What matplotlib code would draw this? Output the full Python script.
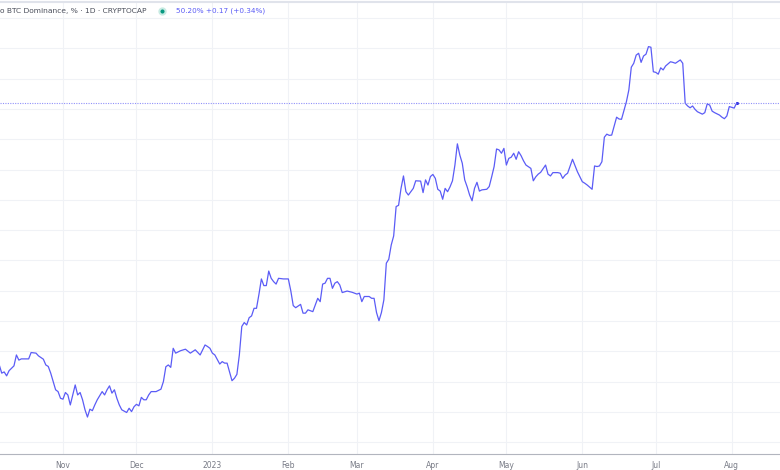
"""
BTC dominance (CRYPTOCAP, 1D) - line chart in a TradingView-like style.
"""

import datetime as dt

import matplotlib.dates as mdates
import matplotlib.pyplot as plt
from matplotlib.lines import Line2D

START = dt.date(2022, 11, 1)

# days counted from 2022-11-01, BTC dominance in %
days_from_nov1 = [
    -26, -25, -24, -23, -22, -20, -19, -18, -17, -14, -13, -11, -10, -8, -7,
    -6, -5, -3, -2, -1, 0, 1, 2, 3, 4, 5, 6, 7, 8, 9, 10, 11, 12, 13, 14, 16,
    17, 18, 19, 20, 21, 22, 23, 24, 26, 27, 28, 29, 30, 31, 32, 33, 34, 35,
    36, 38, 40, 41, 42, 43, 44, 45, 46, 48, 50, 52, 54, 56, 58, 59, 60, 61,
    62, 64, 65, 66, 67, 69, 70, 71, 72, 73, 74, 75, 76, 77, 78, 79, 80, 81,
    82, 83, 84, 85, 86, 87, 88, 90, 92, 93, 94, 95, 97, 98, 99, 100, 102, 104,
    105, 106, 107, 108, 109, 110, 111, 112, 113, 114, 116, 118, 120, 121, 122,
    123, 125, 126, 127, 128, 129, 130, 131, 132, 133, 134, 135, 136, 137, 138,
    139, 140, 141, 142, 143, 144, 146, 147, 148, 149, 150, 151, 152, 153, 154,
    155, 156, 157, 158, 159, 160, 161, 162, 163, 164, 165, 166, 167, 168, 169,
    170, 171, 173, 174, 175, 176, 177, 178, 179, 180, 181, 182, 183, 184, 185,
    186, 187, 188, 189, 191, 192, 193, 194, 195, 197, 198, 199, 200, 202, 203,
    204, 205, 206, 208, 209, 210, 212, 213, 214, 216, 217, 218, 219, 220, 221,
    222, 223, 224, 226, 227, 228, 230, 231, 232, 233, 234, 235, 236, 237, 238,
    239, 240, 241, 242, 243, 244, 245, 246, 248, 249, 250, 252, 253, 254, 255,
    256, 257, 258, 259, 261, 262, 263, 264, 265, 266, 268, 269, 270, 271, 272,
    274, 275,
]
dominance = [
    41.55, 41.28, 41.32, 41.19, 41.36, 41.52, 41.88, 41.71, 41.75, 41.75,
    41.96, 41.94, 41.85, 41.74, 41.55, 41.50, 41.28, 40.73, 40.67, 40.45,
    40.42, 40.64, 40.56, 40.23, 40.56, 40.89, 40.56, 40.64, 40.40, 40.07,
    39.83, 40.09, 40.04, 40.23, 40.40, 40.67, 40.56, 40.73, 40.86, 40.62,
    40.73, 40.45, 40.23, 40.07, 39.98, 40.12, 40.01, 40.17, 40.25, 40.20,
    40.48, 40.40, 40.40, 40.56, 40.67, 40.67, 40.75, 41.00, 41.49, 41.55,
    41.47, 42.10, 41.94, 42.02, 42.07, 41.94, 42.05, 41.88, 42.21, 42.16,
    42.10, 41.94, 41.88, 41.58, 41.66, 41.61, 41.61, 41.03, 41.11, 41.24,
    41.88, 42.82, 42.95, 42.87, 43.11, 43.17, 43.42, 43.42, 43.88, 44.39,
    44.17, 44.17, 44.65, 44.41, 44.30, 44.22, 44.41, 44.39, 44.39, 44.00,
    43.51, 43.44, 43.55, 43.26, 43.26, 43.37, 43.31, 43.75, 43.64, 44.22,
    44.25, 44.41, 44.41, 44.08, 44.25, 44.30, 44.19, 43.94, 43.99, 43.95,
    43.89, 43.92, 43.64, 43.81, 43.81, 43.75, 43.75, 43.28, 43.01, 43.28,
    43.70, 44.91, 45.04, 45.51, 45.81, 46.78, 46.82, 47.38, 47.79, 47.27,
    47.16, 47.27, 47.38, 47.63, 47.62, 47.24, 47.66, 47.49, 47.77, 47.84,
    47.71, 47.35, 47.29, 47.02, 47.38, 47.27, 47.43, 47.63, 48.15, 48.85,
    48.48, 48.21, 47.66, 47.43, 47.16, 46.97, 47.38, 47.58, 47.29, 47.33,
    47.35, 47.44, 47.76, 48.10, 48.68, 48.65, 48.54, 48.70, 48.15, 48.37,
    48.41, 48.54, 48.34, 48.59, 48.46, 48.29, 48.15, 48.04, 47.63, 47.76,
    47.85, 47.91, 48.15, 47.85, 47.79, 47.90, 47.90, 47.88, 47.71, 47.82,
    47.88, 48.34, 48.13, 47.93, 47.60, 47.55, 47.49, 47.35, 48.12, 48.10,
    48.12, 48.26, 49.07, 49.17, 49.13, 49.14, 49.73, 49.67, 49.66, 50.24,
    50.63, 51.38, 51.51, 51.78, 51.84, 51.54, 51.75, 51.81, 52.06, 52.04,
    51.23, 51.21, 51.15, 51.36, 51.29, 51.42, 51.56, 51.54, 51.51, 51.62,
    51.51, 50.19, 50.10, 50.04, 50.10, 49.99, 49.91, 49.83, 49.88, 50.17,
    50.13, 49.93, 49.88, 49.80, 49.73, 49.68, 49.77, 50.08, 50.03, 50.20,
]

month_starts = [dt.date(2022, 11, 1), dt.date(2022, 12, 1), dt.date(2023, 1, 1),
                dt.date(2023, 2, 1), dt.date(2023, 3, 1), dt.date(2023, 4, 1),
                dt.date(2023, 5, 1), dt.date(2023, 6, 1), dt.date(2023, 7, 1),
                dt.date(2023, 8, 1)]
month_labels = ['Nov', 'Dec', '2023', 'Feb', 'Mar', 'Apr', 'May', 'Jun', 'Jul', 'Aug']
grid_levels = list(range(39, 54))

title = 'o BTC Dominance, % · 1D · CRYPTOCAP'
last_value = 50.20
change = 0.17
change_pct = 0.34

LINE = '#5b5cf6'
GRID = '#f0f2f6'
TEXT = '#787b86'

dates = [START + dt.timedelta(days=d) for d in days_from_nov1]

fig = plt.figure(figsize=(7.8, 4.7), dpi=100)
ax = fig.add_axes([0, 16 / 470, 1, 451 / 470])

ax.plot(dates, dominance, color=LINE, lw=0.9, solid_joinstyle='round')
ax.plot(dates[-1], dominance[-1], 'o', color='#2d2de0', ms=2.2, mec='none')
ax.axhline(last_value, color='#7576f8', lw=0.8, ls=(0, (1, 1.2)), alpha=0.8)

ax.set_xticks(month_starts)
ax.set_xticklabels(month_labels)
ax.set_yticks(grid_levels)

# limits after the ticks, otherwise set_yticks widens them
x0 = mdates.date2num(START)
ax.set_xlim(x0 - 25.7, x0 + 292.7)
ax.set_ylim(38.61, 53.50)

ax.grid(True, color=GRID, lw=0.8)
ax.set_axisbelow(True)
ax.tick_params(axis='x', length=0, pad=5, labelsize=5.5, labelcolor=TEXT)
ax.tick_params(axis='y', length=0, labelleft=False)

for side in ('left', 'right', 'top'):
    ax.spines[side].set_visible(False)
ax.spines['bottom'].set_color('#b2b5be')
ax.spines['bottom'].set_linewidth(0.8)

# thin pane border at the very top
fig.add_artist(Line2D([0, 1], [1 - 1.5 / 470] * 2, transform=fig.transFigure,
                      color='#e0e3eb', lw=1.5))

# legend-style header
fig.text(0.0, 1 - 11 / 470, title, fontsize=5.4, color='#4a4e5a', va='center', ha='left')
ax.scatter([162 / 780], [1 - 11 / 470], s=20, color='#089981', edgecolors='#c8ebe3',
           linewidths=1.5, transform=fig.transFigure, zorder=5, clip_on=False)
fig.text(176 / 780, 1 - 11 / 470,
         f'{last_value:.2f}% +{change:.2f} (+{change_pct:.2f}%)',
         fontsize=5.2, color=LINE, va='center', ha='left')

fig.savefig('out.png', dpi=100, facecolor='white')
